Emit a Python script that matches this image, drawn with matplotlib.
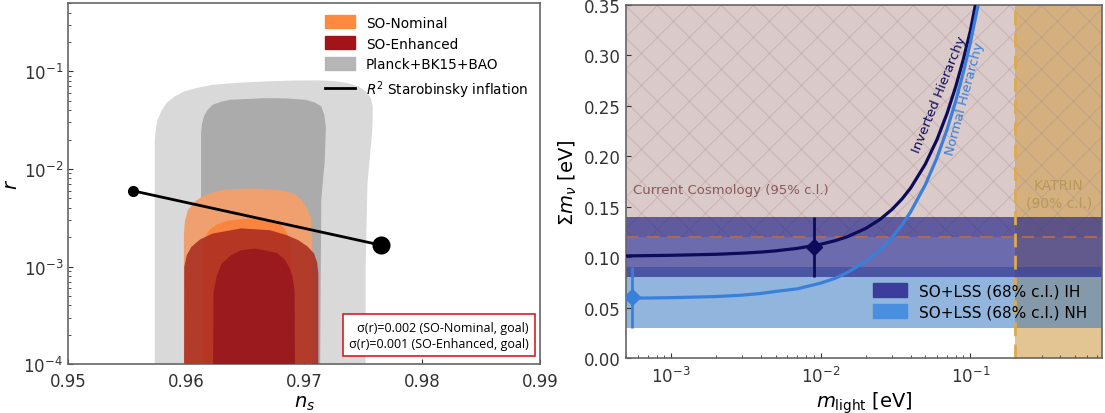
import numpy as np
import matplotlib
matplotlib.use("Agg")
import matplotlib.pyplot as plt
from matplotlib.patches import Patch
from matplotlib.lines import Line2D
from matplotlib.transforms import IdentityTransform

plt.rcParams['font.family'] = ['DejaVu Sans']
plt.rcParams['mathtext.fontset'] = 'dejavusans'

# ---------------- left panel data: (n_s, r) contour outlines ----------------
planck95_ns = [0.95735, 0.95735, 0.95745, 0.95759, 0.9579, 0.95834, 0.959, 0.95985, 0.961,
               0.96226, 0.9645, 0.96678, 0.969, 0.9713, 0.9727, 0.9737, 0.9746, 0.97521,
               0.97565, 0.97581, 0.9758, 0.97575, 0.97536, 0.97521, 0.97521]
planck95_r = [1e-5, 0.0199, 0.026, 0.0318, 0.039, 0.0473, 0.055, 0.0624, 0.068,
              0.0729, 0.0765, 0.0789, 0.0805, 0.0809, 0.079, 0.0759, 0.070, 0.0624,
              0.053, 0.0437, 0.032, 0.0232, 0.00713, 0.00099, 1e-5]

planck68_ns = [0.96127, 0.96127, 0.96135, 0.96151, 0.9618, 0.96226, 0.963, 0.96377, 0.96678,
               0.96850, 0.97009, 0.9709, 0.97145, 0.9717, 0.97184, 0.97175, 0.97145, 0.9713]
planck68_r = [1e-5, 0.0232, 0.029, 0.0345, 0.040, 0.0455, 0.049, 0.0512, 0.0532,
              0.0528, 0.0512, 0.048, 0.0437, 0.036, 0.0272, 0.0124, 0.00481, 1e-5]

nom95_ns = [0.95982, 0.95982, 0.9599, 0.96015, 0.9607, 0.96136, 0.9623, 0.96346, 0.96587,
            0.96828, 0.9692, 0.96979, 0.9702, 0.97054, 0.97069, 0.97069]
nom95_r = [1e-5, 0.00218, 0.0029, 0.00379, 0.0046, 0.0052, 0.0058, 0.00618, 0.00633,
           0.00598, 0.0055, 0.00481, 0.0040, 0.00324, 0.00187, 1e-5]

nom68_ns = [0.96136, 0.96142, 0.9616, 0.96196, 0.9626, 0.96346, 0.96527, 0.96738, 0.968,
            0.96843, 0.9687, 0.96889, 0.96895]
nom68_r = [1e-5, 0.00159, 0.002, 0.00236, 0.0027, 0.00294, 0.00311, 0.00297, 0.0027,
           0.00236, 0.0020, 0.00159, 1e-5]

enh95_ns = [0.95982, 0.95985, 0.96005, 0.96045, 0.9612, 0.96226, 0.96467, 0.96708, 0.9685,
            0.96949, 0.9703, 0.97084, 0.9711, 0.9712, 0.9712]
enh95_r = [1e-5, 0.00099, 0.0013, 0.00159, 0.0019, 0.00218, 0.00246, 0.00236, 0.0021,
           0.00187, 0.0016, 0.00136, 0.0011, 0.000847, 1e-5]

enh68_ns = [0.96226, 0.96232, 0.9626, 0.96301, 0.9638, 0.96467, 0.96587, 0.96768, 0.9683,
            0.96873, 0.969, 0.96919, 0.96925]
enh68_r = [1e-5, 0.000528, 0.0008, 0.00107, 0.0013, 0.00147, 0.00153, 0.00138, 0.0012,
           0.00099, 0.0008, 0.000571, 1e-5]

staro_ns = [0.95548, 0.97648]
staro_r = [0.00598, 0.00166]

# ---------------- right panel data ----------------
m_light = [5e-4, 1e-3, 2e-3, 3e-3, 4e-3, 5e-3, 7e-3, 1e-2, 1.25e-2, 1.5e-2, 2e-2, 2.5e-2,
           3e-2, 3.5e-2, 4e-2, 5e-2, 6e-2, 7e-2, 8e-2, 9e-2, 0.1, 0.115]
sum_nh = [0.0592, 0.0598, 0.0609, 0.0623, 0.0640, 0.0660, 0.0686, 0.0742, 0.0790,
          0.0845, 0.0957, 0.1074, 0.1195, 0.1320, 0.145, 0.1715, 0.1987, 0.2266,
          0.2548, 0.2834, 0.312, 0.3557]
sum_ih = [0.1012, 0.1018, 0.1028, 0.1039, 0.1050, 0.1062, 0.1087, 0.1127, 0.1163,
          0.1201, 0.1284, 0.1375, 0.1473, 0.1577, 0.1686, 0.1920, 0.2167, 0.2425,
          0.2691, 0.2963, 0.3239, 0.3700]

ih_point = (9e-3, 0.11)
nh_point = (5.5e-4, 0.06)
so_sigma = 0.03
cosmo_limit = 0.12
katrin_limit = 0.2

fig = plt.figure(figsize=(11.05, 4.14), dpi=100)

# ======================= left panel =======================
ax1 = fig.add_axes([0.0615, 0.118, 0.4275, 0.872])
ax1.fill(planck95_ns, planck95_r, color='#d9d9d9', lw=0, zorder=1)
ax1.fill(planck68_ns, planck68_r, color='#ababab', lw=0, zorder=2)
ax1.fill(nom95_ns, nom95_r, color='#f0a06e', lw=0, zorder=3)
ax1.fill(nom68_ns, nom68_r, color='#f9843f', lw=0, zorder=4)
ax1.fill(enh95_ns, enh95_r, color='#a8291f', alpha=0.85, lw=0, zorder=5)
ax1.fill(enh68_ns, enh68_r, color='#9a1a1e', lw=0, zorder=6)
ax1.plot(staro_ns, staro_r, color='black', lw=2, zorder=7)
ax1.plot(staro_ns[0], staro_r[0], 'o', color='black', ms=7, zorder=8)
ax1.plot(staro_ns[1], staro_r[1], 'o', color='black', ms=12, zorder=8)

ax1.set_yscale('log')
ax1.set_xlim(0.95, 0.99)
ax1.set_ylim(1e-4, 0.5)
ax1.set_xticks([0.95, 0.96, 0.97, 0.98, 0.99])
ax1.set_xticklabels(['0.95', '0.96', '0.97', '0.98', '0.99'])
ax1.set_yticks([1e-4, 1e-3, 1e-2, 1e-1])
ax1.tick_params(which='both', direction='in', labelsize=12, colors='#333333')
ax1.tick_params(axis='x', pad=6)
ax1.set_xlabel('$n_s$', fontsize=14, labelpad=2)
ax1.set_ylabel('$r$', fontsize=14, labelpad=2)
for s in ax1.spines.values():
    s.set_color('#666666')
    s.set_linewidth(1.2)

handles1 = [Patch(color='#fd8a3f', label='SO-Nominal'),
            Patch(color='#a3141a', label='SO-Enhanced'),
            Patch(color='#b5b5b5', label='Planck+BK15+BAO'),
            Line2D([0], [0], color='black', lw=2, label='$R^2$ Starobinsky inflation')]
ax1.legend(handles=handles1, loc='upper right', frameon=False, fontsize=9.8,
           handlelength=2.2, handleheight=1.1, labelspacing=0.5,
           bbox_to_anchor=(1.0, 1.0))

ax1.text(0.975, 0.04, 'σ(r)=0.002 (SO-Nominal, goal)\nσ(r)=0.001 (SO-Enhanced, goal)',
         transform=ax1.transAxes, ha='right', va='bottom', fontsize=9,
         family=['Open Sans', 'DejaVu Sans'], linespacing=1.3, zorder=10,
         bbox=dict(boxstyle='square,pad=0.5', fc='white', ec='#d62020', lw=1.2))

# ======================= right panel =======================
ax2 = fig.add_axes([0.5665, 0.1329, 0.4308, 0.8527])
ax2.set_xscale('log')
ax2.set_xlim(5e-4, 0.76)
ax2.set_ylim(0, 0.35)

pink = ax2.axhspan(cosmo_limit, 0.35, color='#dbcaca', lw=0, zorder=0.5)
ax2.axvspan(katrin_limit, 0.76, color='#cf9f4a', alpha=0.6, lw=0, zorder=0.6)

# cross-hatching of the excluded cosmology region, drawn in pixel space
fig.canvas.draw()
bb = ax2.get_window_extent()
step = 32
for c in np.arange(bb.x0 - bb.height - step, bb.x1 + step, step):
    for ys in ([bb.y0, bb.y1], [bb.y1, bb.y0]):
        ln = Line2D([c, c + bb.height], ys, transform=IdentityTransform(),
                    color='#a88e8e', lw=0.6, alpha=0.45, zorder=0.7)
        ax2.add_line(ln)
        ln.set_clip_path(pink)

ax2.axhspan(nh_point[1] - so_sigma, nh_point[1] + so_sigma, color='#3878c0',
            alpha=0.55, lw=0, zorder=1)
ax2.axhspan(ih_point[1] - so_sigma, ih_point[1] + so_sigma, color='#2c2c8c',
            alpha=0.7, lw=0, zorder=1.1)

ax2.axhline(cosmo_limit, color='#a86a5a', ls='--', lw=1.5, dashes=(6, 4), zorder=2)
ax2.axvline(katrin_limit, color='#dcaa50', ls='--', lw=2, dashes=(5, 3), zorder=2)

ax2.plot(m_light, sum_ih, color='#0c0c5a', lw=2.3, zorder=3)
ax2.plot(m_light, sum_nh, color='#3a80d8', lw=2.3, zorder=3)
ax2.errorbar([ih_point[0]], [ih_point[1]], yerr=so_sigma, fmt='D', color='#0c0c5a',
             ms=8, lw=2, capsize=0, zorder=4)
ax2.errorbar([nh_point[0]], [nh_point[1]], yerr=so_sigma, fmt='D', color='#3a80d8',
             ms=8, lw=2, capsize=0, zorder=4)

ax2.text(5.6e-4, 0.167, 'Current Cosmology (95% c.l.)', color='#8a5a58',
         fontsize=9.5, ha='left', va='center', zorder=5)
ax2.text(0.39, 0.163, 'KATRIN\n(90% c.l.)', color='#b8985a', fontsize=10,
         ha='center', va='center', linespacing=1.3, zorder=5)
ax2.text(0.062, 0.262, 'Inverted Hierarchy', color='#0c0c5a', fontsize=9.5,
         rotation=68, ha='center', va='center', zorder=5)
ax2.text(0.092, 0.258, 'Normal Hierarchy', color='#3a80d8', fontsize=9.5,
         rotation=75, ha='center', va='center', zorder=5)

ax2.set_yticks(np.arange(0, 0.351, 0.05))
ax2.set_yticklabels(['%.2f' % v for v in np.arange(0, 0.351, 0.05)])
ax2.tick_params(which='both', direction='in', labelsize=12, colors='#333333')
ax2.tick_params(axis='x', pad=6)
ax2.set_xlabel(r'$m_{\rm light}$ [eV]', fontsize=14, labelpad=2)
ax2.set_ylabel(r'$\Sigma m_\nu$ [eV]', fontsize=14, labelpad=4)
for s in ax2.spines.values():
    s.set_color('#666666')
    s.set_linewidth(1.2)

handles2 = [Patch(color='#3c3c9c', label='SO+LSS (68% c.l.) IH'),
            Patch(color='#4a8ee0', label='SO+LSS (68% c.l.) NH')]
ax2.legend(handles=handles2, loc='lower left', bbox_to_anchor=(0.49, 0.07),
           frameon=False, fontsize=11, handlelength=2.2, handleheight=1.0,
           labelspacing=0.4)

fig.savefig('out.png', dpi=100)
